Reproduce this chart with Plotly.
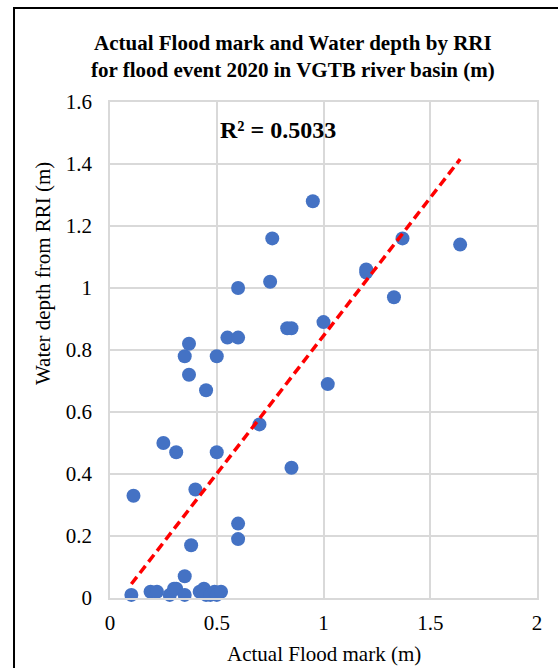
import plotly.graph_objects as go

# Observed flood marks (m) and simulated RRI water depth (m) at the same sites
flood_mark = [
    0.10, 0.11, 0.19, 0.22, 0.28, 0.30, 0.31, 0.35, 0.42, 0.44, 0.45, 0.47, 0.49, 0.50, 0.52,
    0.35, 0.38, 0.40, 0.25, 0.31, 0.35, 0.37, 0.37, 0.45, 0.50, 0.50, 0.55, 0.60, 0.60,
    0.60, 0.60, 0.70, 0.75, 0.76, 0.83, 0.85, 0.85, 0.95, 1.00, 1.02, 1.20, 1.20, 1.33,
    1.37, 1.64,
]
rri_depth = [
    0.01, 0.33, 0.02, 0.02, 0.01, 0.03, 0.03, 0.01, 0.02, 0.03, 0.01, 0.01, 0.02, 0.01, 0.02,
    0.07, 0.17, 0.35, 0.50, 0.47, 0.78, 0.82, 0.72, 0.67, 0.78, 0.47, 0.84, 0.84, 1.00,
    0.24, 0.19, 0.56, 1.02, 1.16, 0.87, 0.87, 0.42, 1.28, 0.89, 0.69, 1.06, 1.05, 0.97,
    1.16, 1.14,
]

# Linear trendline (y = slope * x + intercept) and its coefficient of determination
trend_slope = 0.89
trend_intercept = -0.044
r2_label = "R² = 0.5033"

x_ticks = [0, 0.5, 1, 1.5, 2]
x_tick_text = ["0", "0.5", "1", "1.5", "2"]
y_ticks = [0, 0.2, 0.4, 0.6, 0.8, 1.0, 1.2, 1.4, 1.6]
y_tick_text = ["0", "0.2", "0.4", "0.6", "0.8", "1", "1.2", "1.4", "1.6"]

# Trendline spans the observed range of flood marks
trend_x = [min(flood_mark), max(flood_mark)]
trend_y = [trend_slope * v + trend_intercept for v in trend_x]

SERIF = "Liberation Serif, Times New Roman, serif"
GRID = "#d9d9d9"

fig = go.Figure()
fig.add_trace(go.Scatter(
    x=flood_mark, y=rri_depth, mode="markers",
    marker=dict(size=14, color="#4472C4", line=dict(width=0)),
    showlegend=False, cliponaxis=False,
))
fig.add_trace(go.Scatter(
    x=trend_x, y=trend_y, mode="lines",
    line=dict(color="#FF0000", width=3.5, dash="9px,5px"),
    showlegend=False,
))

fig.update_layout(
    width=558, height=668,
    margin=dict(l=110, r=21, t=102, b=70),
    paper_bgcolor="white", plot_bgcolor="white",
    font=dict(family=SERIF, color="#000000"),
    xaxis=dict(
        range=[0, 2], tickvals=x_ticks, ticktext=x_tick_text,
        showgrid=True, gridcolor=GRID, gridwidth=1.5,
        showline=True, linecolor=GRID, linewidth=1.5, mirror=True,
        zeroline=False, ticks="outside", ticklen=5, tickcolor="rgba(0,0,0,0)",
        tickfont=dict(size=21, family=SERIF, color="#000000"),
    ),
    yaxis=dict(
        range=[0, 1.6], tickvals=y_ticks, ticktext=y_tick_text,
        showgrid=True, gridcolor=GRID, gridwidth=1.5,
        showline=True, linecolor=GRID, linewidth=1.5, mirror=True,
        zeroline=False, ticks="outside", ticklen=12, tickcolor="rgba(0,0,0,0)",
        tickfont=dict(size=21, family=SERIF, color="#000000"),
    ),
    shapes=[dict(
        type="rect", xref="paper", yref="paper",
        x0=-0.2248, x1=1.2, y0=-0.3, y1=1.1895,
        line=dict(color="#000000", width=2), fillcolor="rgba(0,0,0,0)", layer="above",
    )],
    annotations=[
        dict(
            text="<b>Actual Flood mark and Water depth by RRI</b><br><b>for flood event 2020 in VGTB river basin (m)</b>",
            xref="paper", yref="paper", x=0.4286, y=1.0917,
            xanchor="center", yanchor="middle", showarrow=False,
            font=dict(size=21, family=SERIF, color="#000000"),
        ),
        dict(
            text="<b>" + r2_label + "</b>",
            xref="x", yref="y", x=0.787, y=1.51,
            xanchor="center", yanchor="middle", showarrow=False,
            font=dict(size=24, family=SERIF, color="#000000"),
        ),
        dict(
            text="Water depth from RRI (m)",
            xref="paper", yref="paper", x=-0.157, y=0.655,
            xanchor="center", yanchor="middle", showarrow=False, textangle=-90,
            font=dict(size=21, family=SERIF, color="#000000"),
        ),
        dict(
            text="Actual Flood mark (m)",
            xref="paper", yref="paper", x=0.5, y=-0.113,
            xanchor="center", yanchor="middle", showarrow=False,
            font=dict(size=21, family=SERIF, color="#000000"),
        ),
    ],
)

fig.write_html("out.html")
